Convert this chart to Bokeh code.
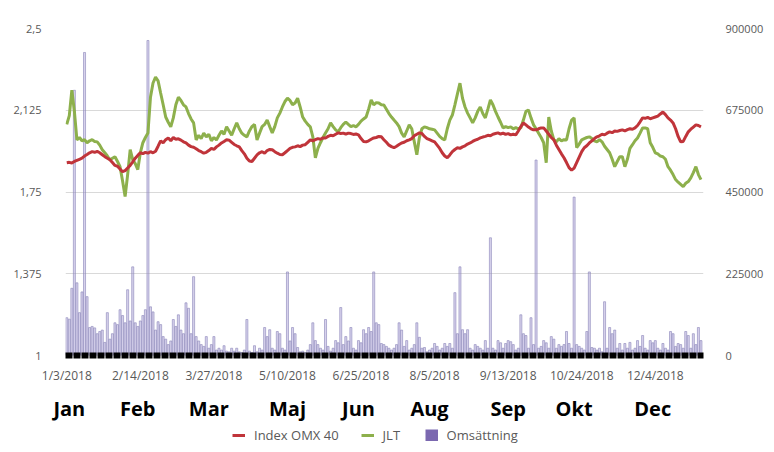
from bokeh.plotting import figure
from bokeh.layouts import column
from bokeh.models import Range1d, LinearAxis, FixedTicker, Legend, LegendItem, ColumnDataSource
from bokeh.embed import file_html
from bokeh.resources import INLINE

# ---------------- data ----------------
index_omx40 = [
    1.884, 1.886, 1.883, 1.890, 1.895, 1.900, 1.905, 1.915, 1.922, 1.930,
    1.935, 1.932, 1.936, 1.930, 1.921, 1.912, 1.905, 1.898, 1.885, 1.872,
    1.868, 1.855, 1.843, 1.848, 1.860, 1.872, 1.888, 1.905, 1.918, 1.930,
    1.926, 1.932, 1.928, 1.935, 1.930, 1.937, 1.960, 1.985, 1.975, 1.990,
    1.998, 1.985, 2.000, 1.992, 1.994, 1.988, 1.980, 1.975, 1.965, 1.958,
    1.955, 1.948, 1.940, 1.935, 1.928, 1.932, 1.940, 1.950, 1.945, 1.957,
    1.965, 1.975, 1.982, 1.990, 1.988, 1.978, 1.968, 1.962, 1.957, 1.940,
    1.925, 1.905, 1.892, 1.890, 1.905, 1.920, 1.930, 1.935, 1.928, 1.940,
    1.945, 1.944, 1.935, 1.928, 1.922, 1.921, 1.930, 1.940, 1.950, 1.955,
    1.957, 1.962, 1.958, 1.965, 1.967, 1.978, 1.989, 1.985, 1.990, 1.995,
    1.992, 1.998, 1.998, 2.005, 2.010, 2.008, 2.015, 2.021, 2.018, 2.020,
    2.015, 2.020, 2.018, 2.014, 2.016, 2.012, 1.995, 1.982, 1.980, 1.985,
    1.992, 1.998, 2.000, 2.005, 2.003, 1.990, 1.978, 1.965, 1.958, 1.953,
    1.960, 1.968, 1.975, 1.978, 1.985, 1.989, 1.995, 2.008, 2.015, 2.021,
    2.018, 2.005, 1.995, 1.990, 1.985, 1.980, 1.965, 1.950, 1.930, 1.915,
    1.907, 1.920, 1.935, 1.945, 1.953, 1.950, 1.957, 1.962, 1.970, 1.975,
    1.982, 1.988, 1.992, 1.998, 2.002, 2.005, 2.010, 2.008, 2.015, 2.018,
    2.021, 2.016, 2.020, 2.014, 2.018, 2.012, 2.015, 2.012, 2.030, 2.050,
    2.067, 2.058, 2.048, 2.040, 2.035, 2.035, 2.040, 2.044, 2.044, 2.030,
    2.015, 2.000, 1.989, 1.965, 1.945, 1.925, 1.907, 1.885, 1.862, 1.850,
    1.860, 1.885, 1.910, 1.935, 1.953, 1.962, 1.975, 1.985, 1.995, 2.003,
    2.008, 2.015, 2.012, 2.020, 2.026, 2.022, 2.030, 2.028, 2.032, 2.035,
    2.030, 2.036, 2.040, 2.038, 2.044, 2.055, 2.072, 2.090, 2.088, 2.092,
    2.086, 2.090, 2.094, 2.098, 2.108, 2.117, 2.105, 2.090, 2.080, 2.067,
    2.040, 2.005, 1.980, 1.982, 2.005, 2.026, 2.038, 2.048, 2.058, 2.055,
    2.049,
]

jlt = [
    2.060, 2.100, 2.217, 2.120, 1.989, 2.000, 1.985, 1.990, 1.976, 1.985,
    1.990, 1.982, 1.980, 1.965, 1.944, 1.930, 1.915, 1.898, 1.905, 1.912,
    1.890, 1.866, 1.800, 1.729, 1.830, 1.944, 1.898, 1.880, 1.853, 1.930,
    1.976, 2.000, 2.021, 2.185, 2.250, 2.277, 2.260, 2.204, 2.150, 2.094,
    2.070, 2.049, 2.090, 2.150, 2.185, 2.170, 2.150, 2.140, 2.110, 2.085,
    2.067, 1.989, 2.010, 1.995, 2.020, 2.003, 2.015, 1.985, 2.000, 1.989,
    2.010, 2.030, 2.015, 2.049, 2.030, 2.010, 2.040, 2.067, 2.040, 2.020,
    2.010, 2.003, 2.030, 2.050, 2.060, 1.989, 2.020, 2.050, 2.060, 2.080,
    2.050, 2.021, 2.050, 2.090, 2.112, 2.140, 2.165, 2.180, 2.170, 2.150,
    2.158, 2.180, 2.140, 2.094, 2.075, 2.060, 2.049, 2.003, 1.907, 1.950,
    1.976, 2.000, 2.021, 2.040, 2.067, 2.050, 2.035, 2.026, 2.045, 2.060,
    2.071, 2.060, 2.050, 2.055, 2.049, 2.060, 2.075, 2.085, 2.094, 2.130,
    2.172, 2.150, 2.160, 2.158, 2.150, 2.149, 2.130, 2.110, 2.094, 2.080,
    2.067, 2.050, 2.020, 2.003, 2.030, 2.058, 2.040, 1.980, 1.921, 2.000,
    2.040, 2.049, 2.045, 2.040, 2.038, 2.035, 2.020, 2.005, 1.995, 1.989,
    2.040, 2.080, 2.103, 2.150, 2.200, 2.249, 2.180, 2.140, 2.112, 2.090,
    2.067, 2.090, 2.120, 2.140, 2.110, 2.090, 2.130, 2.172, 2.150, 2.120,
    2.094, 2.070, 2.044, 2.050, 2.045, 2.049, 2.040, 2.045, 2.040, 2.044,
    2.080, 2.120, 2.126, 2.090, 2.058, 2.040, 2.020, 2.000, 1.976, 1.884,
    2.094, 2.030, 1.990, 1.980, 1.995, 1.985, 1.990, 1.989, 2.040, 2.080,
    2.090, 1.953, 1.970, 1.989, 1.995, 2.000, 2.003, 1.995, 1.985, 1.980,
    1.990, 1.980, 1.960, 1.945, 1.930, 1.900, 1.866, 1.890, 1.912, 1.912,
    1.866, 1.900, 1.950, 1.967, 1.985, 1.998, 2.020, 2.044, 2.044, 2.040,
    1.976, 1.955, 1.930, 1.925, 1.915, 1.912, 1.900, 1.866, 1.850, 1.830,
    1.807, 1.795, 1.785, 1.775, 1.790, 1.798, 1.815, 1.839, 1.866, 1.830,
    1.807,
]

# Omsättning in thousands
omsattning_k = [
    104, 100, 185, 730, 200, 118, 175, 834, 162, 77,
    80, 76, 60, 66, 70, 36, 118, 45, 60, 90,
    85, 126, 110, 90, 181, 95, 244, 90, 80, 95,
    110, 126, 867, 134, 120, 70, 93, 85, 52, 45,
    30, 40, 99, 80, 112, 70, 60, 145, 130, 60,
    217, 52, 40, 30, 25, 52, 20, 30, 52, 15,
    20, 15, 27, 12, 10, 20, 12, 20, 10, 8,
    15, 99, 12, 8, 27, 10, 20, 15, 77, 52,
    71, 20, 15, 66, 60, 20, 15, 230, 40, 77,
    60, 22, 10, 12, 8, 15, 30, 90, 41, 30,
    20, 15, 99, 25, 12, 20, 41, 35, 132, 30,
    52, 40, 77, 20, 15, 41, 35, 71, 60, 77,
    66, 230, 90, 85, 33, 30, 25, 20, 15, 20,
    30, 90, 70, 25, 41, 15, 20, 30, 90, 50,
    20, 22, 10, 15, 20, 33, 25, 15, 20, 33,
    25, 33, 20, 173, 60, 244, 71, 60, 71, 20,
    15, 30, 25, 20, 15, 41, 20, 324, 20, 15,
    41, 35, 20, 33, 41, 38, 30, 15, 20, 112,
    60, 55, 20, 104, 30, 538, 20, 25, 41, 35,
    20, 52, 45, 20, 30, 25, 30, 66, 33, 20,
    436, 30, 25, 20, 15, 66, 230, 22, 20, 15,
    20, 10, 148, 20, 77, 60, 70, 20, 33, 15,
    33, 20, 36, 15, 20, 41, 25, 55, 20, 15,
    41, 35, 41, 20, 15, 33, 20, 15, 66, 60,
    25, 33, 30, 20, 66, 55, 20, 60, 30, 77,
    41,
]

date_labels = ["1/3/2018", "2/14/2018", "3/27/2018", "5/10/2018", "6/25/2018",
               "8/5/2018", "9/13/2018", "10/24/2018", "12/4/2018"]
date_label_idx = [0, 29, 58, 87, 116, 145, 174, 203, 232]

month_labels = ["Jan", "Feb", "Mar", "Maj", "Jun", "Aug", "Sep", "Okt", "Dec"]
month_label_idx = [1, 28, 56, 87, 115, 143, 174, 200, 231]

left_ticks = [1, 1.375, 1.75, 2.125, 2.5]
left_tick_labels = ["1", "1,375", "1,75", "2,125", "2,5"]
right_ticks = [0, 225000, 450000, 675000, 900000]
right_tick_labels = ["0", "225000", "450000", "675000", "900000"]

series_names = ["Index OMX 40", "JLT", "Omsättning"]

# ---------------- build ----------------
n = len(index_omx40)
src = ColumnDataSource(dict(
    idx=list(range(n)),
    omx=index_omx40,
    jlt=jlt,
    vol=[v * 1000 for v in omsattning_k],
))

FONT = "Open Sans"
GREY = "#595959"
RED = "#c0343a"
GREEN = "#8db04c"
PURPLE = "#7b68b0"

p = figure(width=766, height=424, output_backend="svg", toolbar_location=None,
           x_range=Range1d(-0.5, 251), y_range=Range1d(1, 2.5),
           min_border_left=65, min_border_right=58, min_border_top=28, min_border_bottom=68)
p.outline_line_color = None
p.background_fill_color = "white"
p.extra_y_ranges = {"vol": Range1d(0, 900000)}

# volume bars
p.vbar(x="idx", top="vol", bottom=0, width=0.8, source=src, y_range_name="vol",
       fill_color="#9c8fcf", fill_alpha=0.4, line_color="#8a84b8", line_alpha=0.75, line_width=0.8)
p.line(x="idx", y="jlt", source=src, line_color=GREEN, line_width=3)
p.line(x="idx", y="omx", source=src, line_color=RED, line_width=3)

# left axis
p.yaxis.ticker = FixedTicker(ticks=left_ticks)
p.yaxis.major_label_overrides = dict(zip(left_ticks, left_tick_labels))
p.yaxis.axis_line_color = None
p.yaxis.major_tick_line_color = None
p.yaxis.minor_tick_line_color = None
p.yaxis.major_label_standoff = 18
p.yaxis.major_label_text_font = FONT
p.yaxis.major_label_text_font_size = "11px"
p.yaxis.major_label_text_color = GREY

p.ygrid.ticker = FixedTicker(ticks=left_ticks)
p.ygrid.grid_line_color = "#d9d9d9"
p.ygrid.grid_line_width = 1
p.xgrid.visible = False

# right axis
ra = LinearAxis(y_range_name="vol", ticker=FixedTicker(ticks=right_ticks),
                major_label_overrides=dict(zip(right_ticks, right_tick_labels)))
ra.axis_line_color = None
ra.major_tick_line_color = None
ra.minor_tick_line_color = None
ra.major_label_standoff = 16
ra.major_label_text_font = FONT
ra.major_label_text_font_size = "11px"
ra.major_label_text_color = GREY
p.add_layout(ra, "right")

# bottom date axis (thick dashed black band)
p.xaxis.ticker = FixedTicker(ticks=date_label_idx)
p.xaxis.major_label_overrides = dict(zip(date_label_idx, date_labels))
p.xaxis.axis_line_color = "black"
p.xaxis.axis_line_width = 6
p.xaxis.axis_line_dash = "7 1"
p.xaxis.major_tick_line_color = None
p.xaxis.minor_tick_line_color = None
p.xaxis.major_label_standoff = 5
p.xaxis.major_label_text_font = FONT
p.xaxis.major_label_text_font_size = "12px"
p.xaxis.major_label_text_color = GREY

# month axis
ma = LinearAxis(ticker=FixedTicker(ticks=month_label_idx),
                major_label_overrides=dict(zip(month_label_idx, month_labels)))
ma.axis_line_color = None
ma.major_tick_line_color = None
ma.minor_tick_line_color = None
ma.major_label_standoff = 2
ma.major_label_text_font = FONT
ma.major_label_text_font_size = "20px"
ma.major_label_text_font_style = "bold"
ma.major_label_text_color = "black"
p.add_layout(ma, "below")

# ---------------- legend strip ----------------
# the legend renderers use the same data, but this strip's ranges keep them out of view
lg = figure(width=766, height=20, output_backend="svg", toolbar_location=None,
            x_axis_location=None, y_axis_location=None,
            x_range=Range1d(1000, 1001), y_range=Range1d(1000, 1001),
            min_border_left=0, min_border_right=0, min_border_top=0, min_border_bottom=0)
lg.grid.visible = False
lg.outline_line_color = None
lr = lg.line(x="idx", y="omx", source=src, line_color=RED, line_width=3)
lgn = lg.line(x="idx", y="jlt", source=src, line_color=GREEN, line_width=3)
lsq = lg.line(x="idx", y="vol", source=src, line_color=PURPLE, line_width=12, line_cap="butt")

legend = Legend(items=[LegendItem(label=series_names[0], renderers=[lr]),
                       LegendItem(label=series_names[1], renderers=[lgn]),
                       LegendItem(label=series_names[2], renderers=[lsq])],
                orientation="horizontal", location=(167, 0),
                label_text_font=FONT, label_text_font_size="13px", label_text_color=GREY,
                glyph_width=13, glyph_height=12, label_standoff=9, spacing=22,
                padding=2, margin=0, border_line_color=None, background_fill_alpha=0)
lg.add_layout(legend, "center")

open("out.html", "w").write(file_html(column(p, lg, spacing=0), INLINE))
